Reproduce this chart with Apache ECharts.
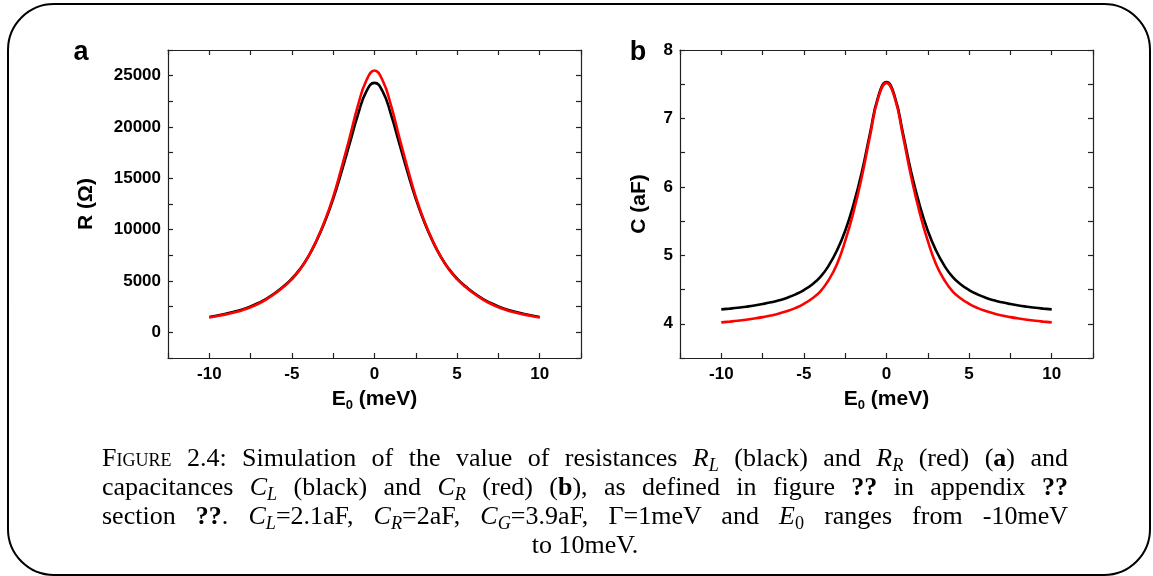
<!DOCTYPE html>
<html>
<head>
<meta charset="utf-8">
<script src="https://cdn.jsdelivr.net/npm/echarts@6/dist/echarts.min.js"></script>
<style>
  html, body { margin: 0; padding: 0; background: #fff; }
  #chart { position: absolute; left: 0; top: 0; width: 1153px; height: 576px; }
  #caption { position: absolute; left: 102px; top: 443px; width: 966px;
    font-family: "Liberation Serif", "DejaVu Serif", serif; font-size: 26px; color: #000; }
  #caption .ln { height: 29px; line-height: 29px; white-space: nowrap;
    text-align: justify; text-align-last: justify; }
  #caption .ln.last { text-align: center; text-align-last: center; }
  #caption sub { font-size: 70%; line-height: 0; vertical-align: -0.25em; }
  #caption .sc { font-variant: small-caps; }
</style>
</head>
<body>
<div id="chart"></div>
<div id="caption">
  <div class="ln"><span class="sc">Figure</span> 2.4: Simulation of the value of resistances <i>R</i><sub><i>L</i></sub> (black) and <i>R</i><sub><i>R</i></sub> (red) (<b>a</b>) and</div>
  <div class="ln">capacitances <i>C</i><sub><i>L</i></sub> (black) and <i>C</i><sub><i>R</i></sub> (red) (<b>b</b>), as defined in figure <b>??</b> in appendix <b>??</b></div>
  <div class="ln">section <b>??</b>. <i>C</i><sub><i>L</i></sub>=2.1aF, <i>C</i><sub><i>R</i></sub>=2aF, <i>C</i><sub><i>G</i></sub>=3.9aF, Γ=1meV and <i>E</i><sub>0</sub> ranges from -10meV</div>
  <div class="ln last">to 10meV.</div>
</div>
<script>
// ---- data ----
const E0 = [-10,-9.5,-9,-8.5,-8,-7.5,-7,-6.5,-6,-5.5,-5,-4.5,-4,-3.5,-3,-2.5,-2,-1.5,-1,-0.5,0,
            0.5,1,1.5,2,2.5,3,3.5,4,4.5,5,5.5,6,6.5,7,7.5,8,8.5,9,9.5,10];
const R_L = [1500,1645,1810,2000,2230,2520,2880,3320,3850,4480,5230,6180,7400,8950,10800,13000,15600,18400,21200,23450,24300,
             23450,21200,18400,15600,13000,10800,8950,7400,6180,5230,4480,3850,3320,2880,2520,2230,2000,1810,1645,1500];
const R_R = [1450,1590,1750,1935,2160,2450,2810,3260,3800,4430,5180,6140,7400,9000,10900,13200,16000,19000,22100,24500,25500,
             24500,22100,19000,16000,13200,10900,9000,7400,6140,5180,4430,3800,3260,2810,2450,2160,1935,1750,1590,1450];
const C_L = [4.210,4.222,4.235,4.250,4.267,4.288,4.313,4.343,4.381,4.430,4.493,4.575,4.685,4.85,5.07,5.36,5.74,6.21,6.78,7.32,7.53,
             7.32,6.78,6.21,5.74,5.36,5.07,4.85,4.685,4.575,4.493,4.430,4.381,4.343,4.313,4.288,4.267,4.250,4.235,4.222,4.210];
const C_R = [4.020,4.032,4.045,4.060,4.077,4.097,4.121,4.150,4.186,4.232,4.292,4.370,4.475,4.64,4.87,5.21,5.63,6.14,6.74,7.30,7.52,
             7.30,6.74,6.14,5.63,5.21,4.87,4.64,4.475,4.370,4.292,4.232,4.186,4.150,4.121,4.097,4.077,4.060,4.045,4.032,4.020];
const xLabels = [-10, -5, 0, 5, 10];
const rLabels = [0, 5000, 10000, 15000, 20000, 25000];
const cLabels = [4, 5, 6, 7, 8];

const FONT = '"Liberation Sans", Arial, sans-serif';
const FRAME = '#222';

function inList(list, v) { return list.some(t => Math.abs(t - v) < 1e-6); }

function xAxis(grid, pos, main) {
  return {
    gridIndex: grid, type: 'value', position: pos, min: -12.5, max: 12.5, interval: 2.5,
    axisLine: { show: true, onZero: false, lineStyle: { color: FRAME, width: 1.2 } },
    axisTick: { show: true, inside: true, length: 5, lineStyle: { color: FRAME, width: 1.2 } },
    axisLabel: { show: main, margin: 8, color: '#000', fontFamily: FONT, fontWeight: 'bold', fontSize: 17,
      formatter: v => inList(xLabels, v) ? String(Math.round(v)) : '' },
    splitLine: { show: false },
    name: main ? '{a|E}{s|0}{a| (meV)}' : '', nameLocation: 'middle', nameGap: 28,
    nameTextStyle: { rich: {
      a: { fontFamily: FONT, fontWeight: 'bold', fontSize: 21, color: '#000', lineHeight: 26 },
      s: { fontFamily: FONT, fontWeight: 'bold', fontSize: 13, color: '#000', lineHeight: 14, verticalAlign: 'bottom', padding: [4, 0, 0, 0] }
    } }
  };
}

function yAxis(grid, pos, main, min, max, interval, labels, name, gap) {
  return {
    gridIndex: grid, type: 'value', position: pos, min: min, max: max, interval: interval,
    axisLine: { show: true, onZero: false, lineStyle: { color: FRAME, width: 1.2 } },
    axisTick: { show: true, inside: true, length: 5, lineStyle: { color: FRAME, width: 1.2 } },
    axisLabel: { show: main, margin: 7, color: '#000', fontFamily: FONT, fontWeight: 'bold', fontSize: 17,
      formatter: v => inList(labels, v) ? String(Math.round(v)) : '' },
    splitLine: { show: false },
    name: main ? name : '', nameLocation: 'middle', nameGap: gap,
    nameTextStyle: { fontFamily: FONT, fontWeight: 'bold', fontSize: 21, color: '#000' }
  };
}

function series(xi, yi, vals, color) {
  return {
    type: 'line', xAxisIndex: xi, yAxisIndex: yi, showSymbol: false, symbol: 'none',
    smooth: 0.5, lineStyle: { color: color, width: 2.6 }, animation: false,
    data: E0.map((e, i) => [e, vals[i]])
  };
}

const chart = echarts.init(document.getElementById('chart'), null, { renderer: 'canvas' });
chart.setOption({
  animation: false,
  backgroundColor: '#fff',
  grid: [
    { left: 168, top: 50, width: 413, height: 308 },
    { left: 680, top: 50, width: 413, height: 308 }
  ],
  xAxis: [ xAxis(0, 'bottom', true), xAxis(0, 'top', false), xAxis(1, 'bottom', true), xAxis(1, 'top', false) ],
  yAxis: [
    yAxis(0, 'left', true, -2500, 27500, 2500, rLabels, 'R (Ω)', 71),
    yAxis(0, 'right', false, -2500, 27500, 2500, rLabels, '', 0),
    yAxis(1, 'left', true, 3.5, 8, 0.5, cLabels, 'C (aF)', 30),
    yAxis(1, 'right', false, 3.5, 8, 0.5, cLabels, '', 0)
  ],
  series: [
    series(0, 0, R_L, '#000000'),
    series(0, 0, R_R, '#ff0000'),
    series(2, 2, C_L, '#000000'),
    series(2, 2, C_R, '#ff0000')
  ],
  graphic: [
    { type: 'rect', silent: true, shape: { x: 8, y: 4, width: 1142, height: 571, r: 46 },
      style: { fill: 'none', stroke: '#000', lineWidth: 2 } },
    { type: 'text', x: 81, y: 53, style: { text: 'a', font: 'bold 27px ' + FONT, fill: '#000', align: 'center', verticalAlign: 'middle' } },
    { type: 'text', x: 638, y: 53, style: { text: 'b', font: 'bold 27px ' + FONT, fill: '#000', align: 'center', verticalAlign: 'middle' } }
  ]
});
</script>
</body>
</html>
